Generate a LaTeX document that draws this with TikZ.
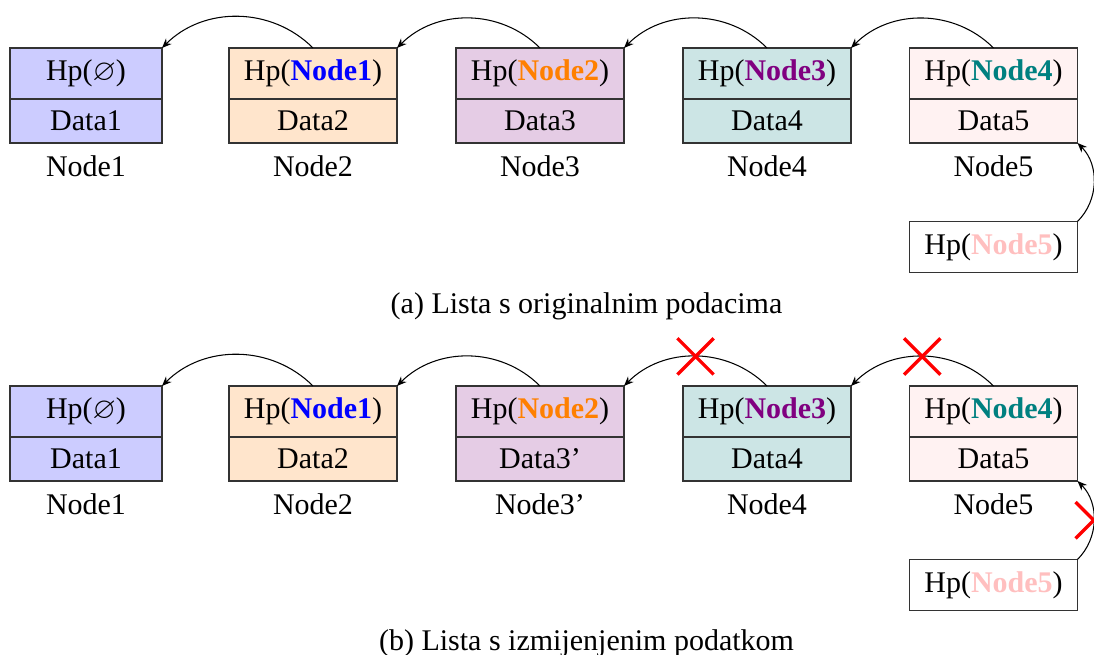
\documentclass[tikz,border=0pt]{standalone}
\usepackage{fontspec}
\setmainfont{LiberationSerif}[Extension=.ttf, UprightFont=*-Regular, BoldFont=*-Bold, ItalicFont=*-Italic, BoldItalicFont=*-BoldItalic]
\usepackage{amssymb}
\usetikzlibrary{arrows.meta,shapes.misc}
\begin{document}
\begin{tikzpicture}[x=0.333333pt,y=-0.333333pt,
  every node/.style={font=\fontsize{10}{12}\selectfont},
  cell/.style={draw=black!80, line width=0.4pt, inner sep=0pt, outer sep=0pt, minimum width=56pt},
  hpcell/.style={cell, minimum height=17pt},
  datacell/.style={cell, minimum height=14.67pt},
  narrow/.style={minimum width=50.67pt},
  lbl/.style={inner sep=0pt, anchor=base},
  link/.style={-{Stealth[length=3.2pt,width=2.6pt]}, line width=0.35pt},
  xmark/.style={cross out, draw=red, line width=1.1pt, minimum width=11pt, minimum height=11pt, inner sep=0pt}
]
\clip (0,0) rectangle (1094,655);
% ---------- (a) ----------
\node[hpcell, narrow, fill=blue!20] (a1h) at (86,73.5) {Hp($\varnothing$)};
\node[datacell, narrow, fill=blue!20] (a1d) at (86,121) {Data1};
\node[lbl] (a1l) at (86,177) {Node1};
\node[hpcell, fill=orange!20] (a2h) at (313,73.5) {Hp(\textcolor{blue}{\textbf{Node1}})};
\node[datacell, fill=orange!20] (a2d) at (313,121) {Data2};
\node[lbl] (a2l) at (313,177) {Node2};
\node[hpcell, fill=violet!20] (a3h) at (540,73.5) {Hp(\textcolor{orange}{\textbf{Node2}})};
\node[datacell, fill=violet!20] (a3d) at (540,121) {Data3};
\node[lbl] (a3l) at (540,177) {Node3};
\node[hpcell, fill=teal!20] (a4h) at (767,73.5) {Hp(\textcolor{violet}{\textbf{Node3}})};
\node[datacell, fill=teal!20] (a4d) at (767,121) {Data4};
\node[lbl] (a4l) at (767,177) {Node4};
\node[hpcell, fill=pink!20] (a5h) at (993.5,73.5) {Hp(\textcolor{teal}{\textbf{Node4}})};
\node[datacell, fill=pink!20] (a5d) at (993.5,121) {Data5};
\node[lbl] (a5l) at (993.5,177) {Node5};
\node[hpcell] (a6h) at (993.5,247) {Hp(\textcolor{pink}{\textbf{Node5}})};
\draw[link] (a2h.north) to[bend right=45] (a1h.north east);
\draw[link] (a3h.north) to[bend right=45] (a2h.north east);
\draw[link] (a4h.north) to[bend right=45] (a3h.north east);
\draw[link] (a5h.north) to[bend right=45] (a4h.north east);
\draw[link] (a6h.north east) to[bend right=45] (a5d.south east);
\node[lbl] (capa) at (586.5,314) {(a) Lista s originalnim podacima};
% ---------- (b) ----------
\node[hpcell, narrow, fill=blue!20] (b1h) at (86,411.5) {Hp($\varnothing$)};
\node[datacell, narrow, fill=blue!20] (b1d) at (86,459) {Data1};
\node[lbl] (b1l) at (86,515) {Node1};
\node[hpcell, fill=orange!20] (b2h) at (313,411.5) {Hp(\textcolor{blue}{\textbf{Node1}})};
\node[datacell, fill=orange!20] (b2d) at (313,459) {Data2};
\node[lbl] (b2l) at (313,515) {Node2};
\node[hpcell, fill=violet!20] (b3h) at (540,411.5) {Hp(\textcolor{orange}{\textbf{Node2}})};
\node[datacell, fill=violet!20] (b3d) at (540,459) {Data3'};
\node[lbl] (b3l) at (540,515) {Node3'};
\node[hpcell, fill=teal!20] (b4h) at (767,411.5) {Hp(\textcolor{violet}{\textbf{Node3}})};
\node[datacell, fill=teal!20] (b4d) at (767,459) {Data4};
\node[lbl] (b4l) at (767,515) {Node4};
\node[hpcell, fill=pink!20] (b5h) at (993.5,411.5) {Hp(\textcolor{teal}{\textbf{Node4}})};
\node[datacell, fill=pink!20] (b5d) at (993.5,459) {Data5};
\node[lbl] (b5l) at (993.5,515) {Node5};
\node[hpcell] (b6h) at (993.5,585) {Hp(\textcolor{pink}{\textbf{Node5}})};
\draw[link] (b2h.north) to[bend right=45] (b1h.north east);
\draw[link] (b3h.north) to[bend right=45] (b2h.north east);
\draw[link] (b4h.north) to[bend right=45] node[xmark] (x1) {} (b3h.north east);
\draw[link] (b5h.north) to[bend right=45] node[xmark] (x2) {} (b4h.north east);
\draw[link] (b6h.north east) to[bend right=45] node[xmark] (x3) {} (b5d.south east);
\node[lbl] (capb) at (586.5,651) {(b) Lista s izmijenjenim podatkom};
\end{tikzpicture}
\end{document}
